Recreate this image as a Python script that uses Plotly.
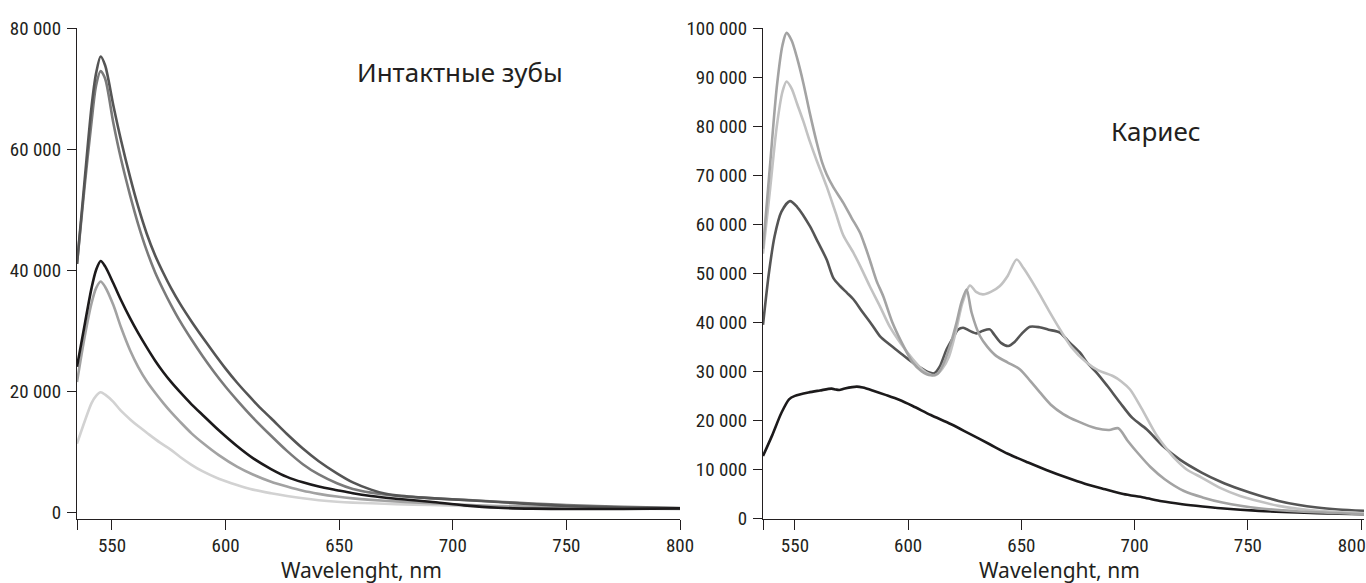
import plotly.graph_objects as go

# ---------------- Left panel: intact teeth ----------------
wl_a = [534.6, 538, 541, 543, 545, 547, 550.6, 554, 558, 561.5, 565.3, 569, 572.6, 576, 580, 585, 590, 595, 600, 605, 610, 615, 620, 627, 634, 641, 649, 656, 664, 670, 675, 690, 705, 720, 735, 750, 775, 800]
int_a = [41000, 55000, 67000, 72500, 75300, 73800, 67200, 61400, 55300, 50500, 46000, 42400, 39500, 37000, 34400, 31500, 28800, 26200, 23700, 21400, 19300, 17300, 15500, 12900, 10500, 8400, 6400, 4900, 3700, 3050, 2750, 2300, 1980, 1650, 1300, 1000, 750, 600]

wl_b = [534.6, 538, 541, 543, 545, 547, 550.6, 554, 558, 561.5, 565.3, 569, 572.6, 576, 580, 585, 590, 595, 600, 605, 612, 620, 627, 634, 641, 649, 656, 664, 675, 690, 705, 720, 735, 750, 775, 800]
int_b = [41000, 54000, 64500, 70500, 72900, 71600, 64300, 58300, 52300, 47600, 43200, 39600, 36700, 34200, 31500, 28500, 25700, 23100, 20700, 18500, 15600, 12600, 10100, 7900, 6200, 4750, 3800, 3200, 2700, 2300, 2000, 1700, 1400, 1150, 850, 650]

wl_c = [534.6, 538, 541, 543, 545, 547, 550.6, 554, 558, 561.5, 565.3, 569, 572.6, 576, 580, 585, 590, 597, 605, 612, 620, 627, 634, 641, 649, 656, 664, 675, 690, 705, 720, 735, 750, 775, 800]
int_c = [24000, 31000, 37000, 40000, 41500, 40600, 37800, 35000, 32000, 29600, 27200, 25000, 23100, 21500, 19800, 17800, 16000, 13500, 10900, 8900, 7100, 5800, 4900, 4200, 3600, 3100, 2650, 2200, 1700, 1100, 700, 550, 500, 500, 600]

wl_d = [534.6, 538, 541, 543, 545, 547, 550.6, 554, 558, 561.5, 565.3, 569, 572.6, 576, 580, 585, 590, 597, 605, 612, 620, 627, 634, 641, 649, 656, 664, 675, 690, 705, 720, 750, 800]
int_d = [21500, 29000, 34500, 37000, 38100, 37200, 34200, 30500, 26700, 24000, 21600, 19700, 18000, 16500, 14900, 13000, 11400, 9400, 7500, 6200, 5000, 4200, 3500, 3000, 2550, 2250, 2000, 1750, 1450, 1200, 1000, 800, 550]

wl_e = [534.6, 538, 541, 543, 545, 547, 550.6, 554, 558, 561.5, 566, 571, 575.5, 580, 585, 590, 597, 605, 612, 620, 627, 634, 641, 649, 656, 664, 675, 690, 705, 720, 750, 800]
int_e = [11300, 15000, 18000, 19200, 19800, 19400, 18200, 16700, 15300, 14200, 12900, 11500, 10400, 9100, 7800, 6700, 5500, 4460, 3700, 3100, 2650, 2260, 1950, 1700, 1550, 1440, 1300, 1150, 1000, 900, 700, 450]

# ---------------- Right panel: caries ----------------
wl_p = [535.9, 539, 542, 544.5, 546.3, 548.5, 551, 553.7, 556.5, 559.6, 562, 564, 567, 571.3, 575, 578.7, 581, 583, 586, 589, 593, 597, 602, 606, 610, 613, 616, 619, 621.4, 623.5, 625.8, 628, 631.7, 635, 639, 644, 649.4, 654, 658.2, 663, 668.5, 675, 683, 688.8, 692.8, 697, 701.3, 707, 713.3, 721.8, 730, 738.8, 755.8, 772.8, 801.3]
int_p = [55000, 72000, 88000, 96500, 99000, 97500, 93800, 88800, 82800, 76700, 72600, 70200, 67500, 64400, 61300, 58300, 55500, 52800, 48500, 45300, 40000, 36000, 31800, 30000, 29200, 29500, 32000, 36000, 40000, 44000, 46700, 42000, 37200, 35000, 33100, 31800, 30400, 28000, 25700, 23200, 21300, 19800, 18400, 18050, 18400, 15800, 13400, 10500, 8000, 5600, 4300, 3260, 2040, 1430, 880]

wl_q = [535.9, 539, 542, 544.5, 546.3, 548.5, 551, 553.7, 556.5, 559.6, 564, 568, 571.3, 575.8, 579, 583, 587.5, 592, 597, 602, 606, 609, 612, 615, 618, 621, 624, 627.3, 630, 633, 636.5, 640.5, 644, 647.9, 651, 656.8, 662, 667, 672, 678.8, 684, 690.6, 694, 698, 703, 709.4, 714, 718, 723, 729.6, 738, 746.6, 755, 763.6, 780.6, 801.3]
int_q = [54000, 67000, 80000, 87000, 89100, 87700, 84500, 81000, 77000, 73000, 67700, 62300, 57800, 54200, 51300, 47400, 43300, 39000, 35500, 32500, 30500, 29500, 29200, 30500, 33000, 38000, 44000, 47500, 46200, 45700, 46200, 47400, 49500, 52800, 51000, 46700, 42500, 38600, 35000, 31800, 30200, 29000, 28000, 26300, 22500, 17200, 14300, 12100, 10000, 8350, 6200, 4600, 3500, 2570, 1550, 1080]

wl_r = [535.9, 538.5, 541, 544, 547.8, 551, 556.6, 560, 564, 567, 569.9, 573, 575.8, 580, 584, 587.5, 592, 596.4, 600, 605.2, 609, 611.5, 614, 617, 620, 622, 624.3, 627, 630.2, 633, 636.1, 638, 641, 644.2, 647, 650, 653.8, 658, 662, 667, 671, 675.9, 679, 683.3, 688, 693.6, 699, 705.3, 712.5, 720, 729.6, 738, 746.6, 755, 763.6, 772, 780.6, 790, 801.3]
int_r = [39500, 50000, 57500, 62500, 64700, 63500, 59600, 56500, 52800, 49000, 47400, 46000, 44700, 42000, 39500, 37200, 35400, 33800, 32500, 30800, 29800, 29600, 31000, 34500, 37000, 38500, 38900, 38300, 37750, 38300, 38560, 37500, 35800, 35160, 36000, 37600, 39100, 39000, 38500, 37900, 36000, 33800, 31800, 29700, 27000, 23600, 20500, 18190, 14790, 12000, 9370, 7500, 5970, 4700, 3590, 2800, 2240, 1850, 1550]

wl_s = [535.9, 540, 544, 547.4, 550, 556, 561, 566.2, 568, 569.6, 572, 577.3, 580, 584.9, 590, 596, 602, 610, 619, 627, 636, 644, 653, 661, 670, 678, 687, 695, 704, 712, 721, 730, 738, 755, 772, 790, 801.3]
int_s = [12750, 17000, 21500, 24300, 25000, 25700, 26100, 26480, 26300, 26200, 26500, 26890, 26700, 26000, 25200, 24200, 22940, 21100, 19210, 17300, 15140, 13200, 11410, 9900, 8350, 7100, 5970, 5000, 4280, 3500, 2910, 2450, 2100, 1550, 1220, 1000, 880]

x_ticks_left = [534.6, 550, 600, 650, 700, 750, 800]
x_ticks_right = [535.9, 550, 600, 650, 700, 750, 800]
x_tick_text_left = ["", "550", "600", "650", "700", "750", "800"]
x_tick_text_right = ["", "550", "600", "650", "700", "750", "800\u2007\u2007"]
left_y_ticks = [0, 20000, 40000, 60000, 80000]
right_y_ticks = [0, 10000, 20000, 30000, 40000, 50000, 60000, 70000, 80000, 90000, 100000]

TICK_FONT = dict(family="Liberation Sans Narrow, Arial Narrow, Roboto Condensed, Liberation Sans, sans-serif", size=19, color="#231f20")
TEXT_FAMILY = "Noto Sans, Open Sans, sans-serif"
AX = "#231f20"

fig = go.Figure()

def add(x, y, color, xa, ya):
    fig.add_trace(go.Scatter(x=x, y=y, mode="lines", xaxis=xa, yaxis=ya,
                             line=dict(color=color, width=2.6, shape="spline", smoothing=0.8),
                             showlegend=False, hoverinfo="skip"))

# left (lighter first)
add(wl_e, int_e, "#d2d2d2", "x", "y")
add(wl_d, int_d, "#a2a2a2", "x", "y")
add(wl_b, int_b, "#7a7a7a", "x", "y")
add(wl_a, int_a, "#555555", "x", "y")
add(wl_c, int_c, "#1c1a1b", "x", "y")
# right
add(wl_s, int_s, "#1c1a1b", "x2", "y2")
add(wl_r, int_r, "#555555", "x2", "y2")
add(wl_q, int_q, "#c2c2c2", "x2", "y2")
add(wl_p, int_p, "#a3a3a3", "x2", "y2")

W, H = 1366, 583
top_px, bot_px = 28, 518.5
ydom = [1 - bot_px / H, 1 - top_px / H]

xcommon = dict(showgrid=False, zeroline=False, showline=True, linecolor=AX, linewidth=1.3,
               ticks="outside", ticklen=10, tickwidth=1.2, tickcolor=AX,
               tickfont=TICK_FONT, automargin=False, ticklabeloverflow="allow")
ycommon = dict(showgrid=False, zeroline=False, showline=True, linecolor=AX, linewidth=1.3,
               ticks="outside", ticklen=9, tickwidth=1.2, tickcolor=AX, ticklabelstandoff=2,
               tickfont=TICK_FONT, tickformat=",d", automargin=False)

title_font = dict(family=TEXT_FAMILY, size=21, color="#231f20")
label_font = dict(family=TEXT_FAMILY, size=26, color="#231f20")

fig.update_layout(
    width=W, height=H,
    margin=dict(l=0, r=0, t=0, b=0, autoexpand=False),
    paper_bgcolor="white", plot_bgcolor="white",
    separators=". ",
    xaxis=dict(domain=[77 / W, 680 / W], range=[534.6, 800], anchor="y",
               tickvals=x_ticks_left, ticktext=x_tick_text_left, **xcommon),
    yaxis=dict(domain=ydom, range=[-1074, 80000], anchor="x", tickvals=left_y_ticks, **ycommon),
    xaxis2=dict(domain=[763 / W, 1364 / W], range=[535.9, 801.3], anchor="y2",
                tickvals=x_ticks_right, ticktext=x_tick_text_right, **xcommon),
    yaxis2=dict(domain=ydom, range=[0, 100000], anchor="x2", tickvals=right_y_ticks, **ycommon),
    annotations=[
        dict(text="Интактные зубы", x=355 / W, y=1 - 72 / H, xref="paper", yref="paper",
             showarrow=False, xanchor="left", yanchor="middle", font=label_font),
        dict(text="Кариес", x=1156 / W, y=1 - 131 / H, xref="paper", yref="paper",
             showarrow=False, xanchor="center", yanchor="middle", font=label_font),
        dict(text="Wavelenght, nm", x=361 / W, y=1 - 570 / H, xref="paper", yref="paper",
             showarrow=False, xanchor="center", yanchor="middle", font=title_font),
        dict(text="Wavelenght, nm", x=1059 / W, y=1 - 570 / H, xref="paper", yref="paper",
             showarrow=False, xanchor="center", yanchor="middle", font=title_font),
    ],
)

fig.write_html("out.html", config={"displayModeBar": False},
               post_script="document.body.style.margin='0';document.body.style.overflow='hidden';")
